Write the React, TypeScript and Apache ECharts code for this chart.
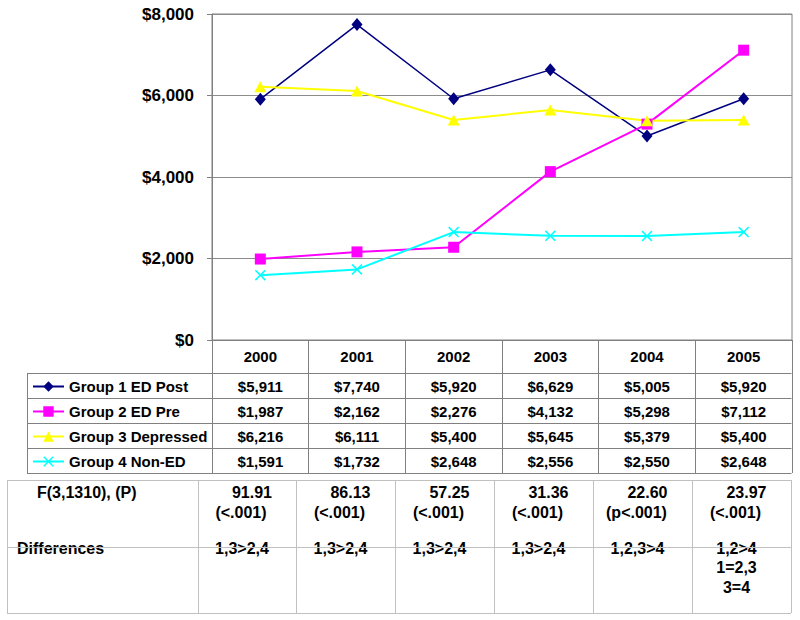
import React, { useEffect, useRef } from "react";
import * as echarts from "echarts";

const years = ["2000", "2001", "2002", "2003", "2004", "2005"];
const seriesNames = ["Group 1 ED Post", "Group 2 ED Pre", "Group 3 Depressed", "Group 4 Non-ED"];
const group1 = [5911, 7740, 5920, 6629, 5005, 5920];
const group2 = [1987, 2162, 2276, 4132, 5298, 7112];
const group3 = [6216, 6111, 5400, 5645, 5379, 5400];
const group4 = [1591, 1732, 2648, 2556, 2550, 2648];
const yMin = 0;
const yMax = 8000;
const yStep = 2000;
const fLabel = "F(3,1310), (P)";
const diffLabel = "Differences";
const fValues = ["91.91", "86.13", "57.25", "31.36", "22.60", "23.97"];
const pValues = ["(<.001)", "(<.001)", "(<.001)", "(<.001)", "(p<.001)", "(<.001)"];
const differences = [["1,3>2,4"], ["1,3>2,4"], ["1,3>2,4"], ["1,3>2,4"], ["1,2,3>4"], ["1,2>4", "1=2,3", "3=4"]];

const FONT = '"Liberation Sans", Arial, Helvetica, sans-serif';
const money = (v: number) => "$" + v.toLocaleString("en-US");

export default function App() {
  const ref = useRef<HTMLDivElement>(null);
  useEffect(() => {
    if (!ref.current) return;
    const chart = echarts.init(ref.current, undefined, { renderer: "svg" });
    const allData = [group1, group2, group3, group4];
    const colors = ["#000080", "#FF00FF", "#FFFF00", "#00FFFF"];
    const symbols = [
      "diamond",
      "rect",
      "triangle",
      "path://M0,1L1,0L5,4L9,0L10,1L6,5L10,9L9,10L5,6L1,10L0,9L4,5Z",
    ];
    const symbolSizes: any[] = [[11, 13], 11, [12, 11], 11];
    const rowTop = 373;
    const rowH = 25;
    const rowCenters = seriesNames.map((_, i) => rowTop + rowH * i + rowH / 2);

    chart.setOption({
      animation: false,
      textStyle: { fontFamily: FONT },
      grid: { left: 212, right: 8, top: 14, bottom: 280, show: true, borderColor: "#808080", borderWidth: 1 },
      xAxis: {
        type: "category",
        data: years,
        boundaryGap: true,
        axisLine: { lineStyle: { color: "#808080", width: 1 } },
        axisTick: { show: true, length: 133, lineStyle: { color: "#808080", width: 1 } },
        axisLabel: { interval: 0, margin: 9, color: "#000", fontSize: 15, fontWeight: "bold", fontFamily: FONT },
        splitLine: { show: false },
      },
      yAxis: {
        type: "value",
        min: yMin,
        max: yMax,
        interval: yStep,
        axisLine: { show: true, lineStyle: { color: "#808080", width: 1 } },
        axisTick: { show: true, length: 5, lineStyle: { color: "#808080" } },
        splitLine: { lineStyle: { color: "#8c8c8c", width: 1 } },
        axisLabel: { margin: 18, color: "#000", fontSize: 17, fontWeight: "bold", fontFamily: FONT, formatter: (v: number) => money(v) },
      },
      legend: seriesNames.map((n, i) => ({
        data: [n],
        left: 32,
        top: rowCenters[i] - 6.5,
        padding: 0,
        itemWidth: 31,
        itemHeight: 13,
        itemGap: 0,
        selectedMode: false,
        textStyle: { fontSize: 15, fontWeight: "bold", color: "#000", fontFamily: FONT, lineHeight: 13 },
      })),
      series: seriesNames.map((n, i) => ({
        name: n,
        type: "line",
        data: allData[i],
        symbol: symbols[i],
        symbolSize: symbolSizes[i],
        itemStyle: { color: colors[i] },
        lineStyle: { color: colors[i], width: i === 0 ? 1.5 : 2 },
      })),
    });

    const g: any[] = [];
    const tableStroke = "#808080";
    // first table horizontal lines
    for (let r = 0; r <= seriesNames.length; r++) {
      const y = rowTop + rowH * r + 0.5;
      g.push({ type: "line", shape: { x1: 27, y1: y, x2: 791.5, y2: y }, style: { stroke: tableStroke, lineWidth: 1 }, z: 10 });
    }
    g.push({ type: "line", shape: { x1: 27.5, y1: rowTop, x2: 27.5, y2: rowTop + rowH * 4 }, style: { stroke: tableStroke, lineWidth: 1 }, z: 10 });
    // values
    years.forEach((yr, c) => {
      const px = chart.convertToPixel({ xAxisIndex: 0 }, yr) as number;
      allData.forEach((arr, r) => {
        g.push({
          type: "text",
          style: { text: money(arr[c]), x: px, y: rowCenters[r] + 1, fill: "#000", fontSize: 15, fontWeight: "bold", fontFamily: FONT, align: "center", verticalAlign: "middle" },
          z: 10,
        });
      });
    });

    // second table
    const fCols = [7, 198, 296, 395, 494, 593, 692, 791];
    const fStroke = "#c0c0c0";
    const fTop = 480, fMid = 547, fBot = 613;
    [fTop, fMid, fBot].forEach((y) => {
      g.push({ type: "line", shape: { x1: fCols[0], y1: y + 0.5, x2: fCols[fCols.length - 1], y2: y + 0.5 }, style: { stroke: fStroke, lineWidth: 1 }, z: 12 });
    });
    fCols.forEach((x) => {
      g.push({ type: "line", shape: { x1: x + 0.5, y1: fTop, x2: x + 0.5, y2: fBot }, style: { stroke: fStroke, lineWidth: 1 }, z: 12 });
    });
    const fText = (text: string, x: number, y: number, align: string) => ({
      type: "text",
      style: { text, x, y, fill: "#000", fontSize: 16, fontWeight: "bold", fontFamily: FONT, align, verticalAlign: "middle" },
      z: 11,
    });
    g.push(fText(fLabel, 37, 492, "left"));
    g.push(fText(diffLabel, 17, 548, "left"));
    fValues.forEach((v, c) => {
      const cc = (fCols[c + 1] + fCols[c + 2]) / 2;
      g.push(fText(v, cc + 5, 492, "center"));
      g.push(fText(pValues[c], cc - 6, 512, "center"));
      differences[c].forEach((d, k) => {
        g.push(fText(d, cc - 5, 548 + k * 19.5, "center"));
      });
    });

    chart.setOption({ graphic: g });
    return () => chart.dispose();
  }, []);
  return <div ref={ref} style={{ position: "fixed", left: 0, top: 0, width: 800, height: 620, background: "#fff" }} />;
}
